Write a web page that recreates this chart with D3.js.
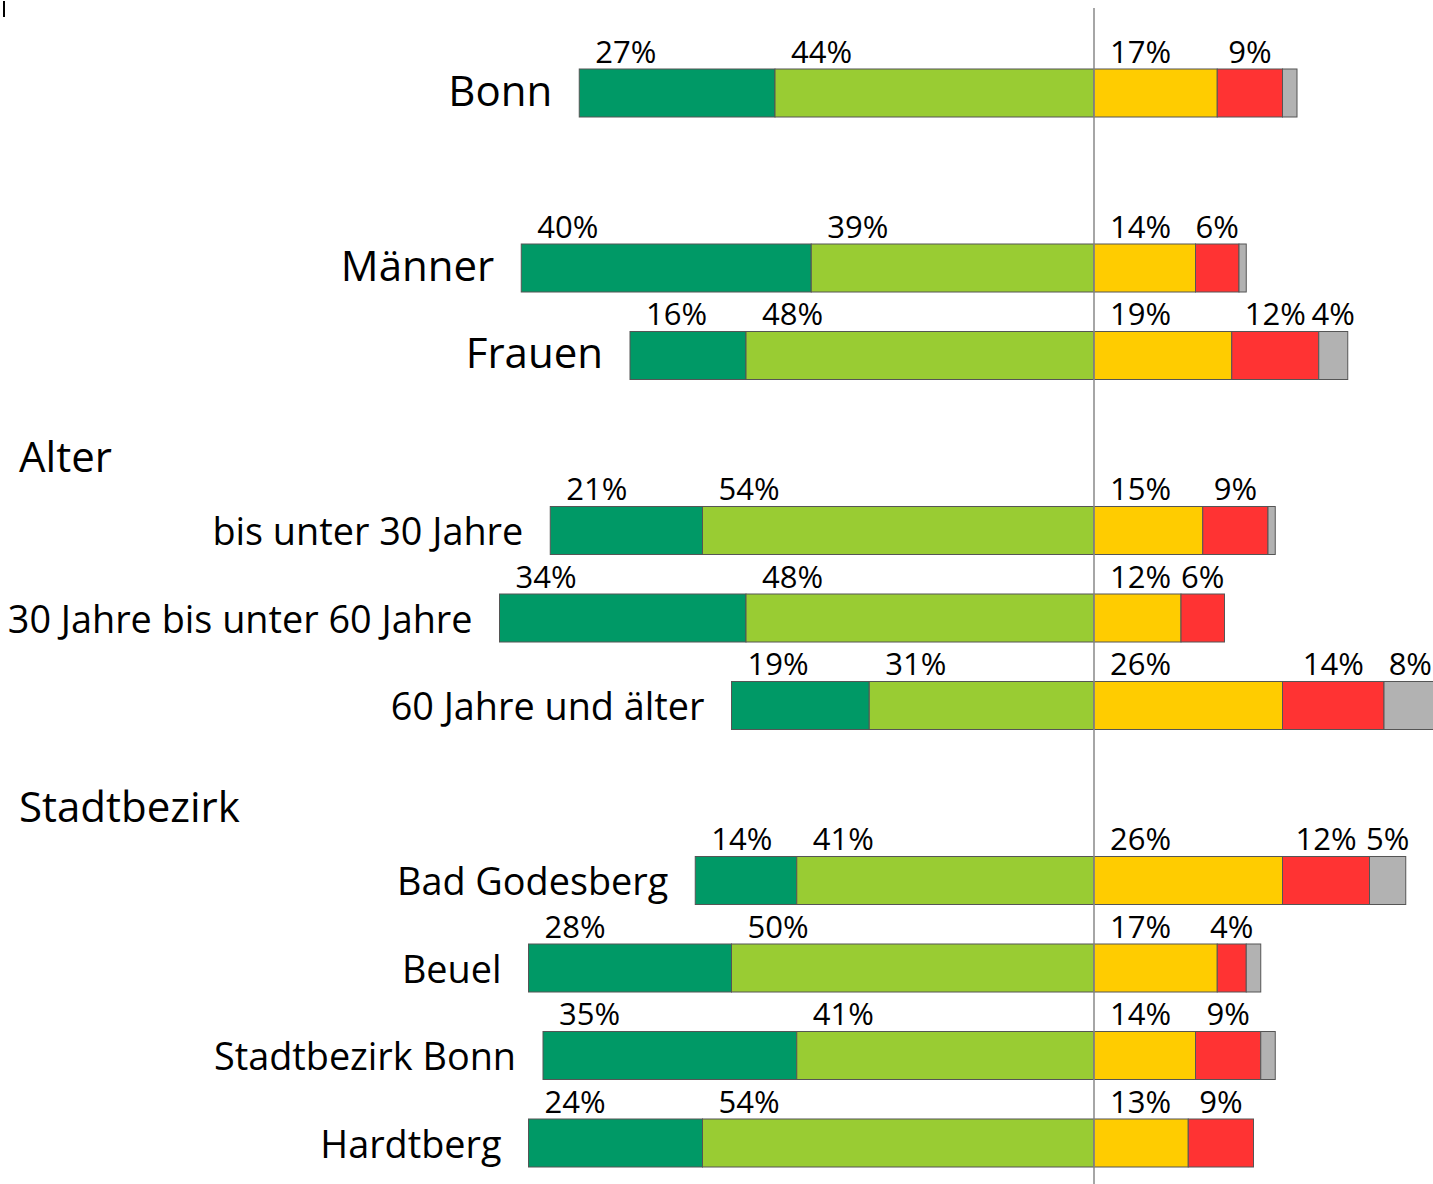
<!DOCTYPE html>
<html>
<head>
<meta charset="utf-8">
<script src="https://cdn.jsdelivr.net/npm/d3@7"></script>
<style>
  body { margin: 0; background: #fff; }
  text { font-family: "Open Sans", "Noto Sans", sans-serif; fill: #000; }
</style>
</head>
<body>
<div id="chart"></div>
<script>
const width = 1433;
const height = 1184;

// rows in display order (headings and an empty slot included)
const layout = [
  "Bonn", "_gap", "Männer", "Frauen",
  "Alter", "bis unter 30 Jahre", "30 Jahre bis unter 60 Jahre", "60 Jahre und älter",
  "Stadtbezirk", "Bad Godesberg", "Beuel", "Stadtbezirk Bonn", "Hardtberg"
];
const headings = ["Alter", "Stadtbezirk"];

const categories = [
  "Bonn", "Männer", "Frauen",
  "bis unter 30 Jahre", "30 Jahre bis unter 60 Jahre", "60 Jahre und älter",
  "Bad Godesberg", "Beuel", "Stadtbezirk Bonn", "Hardtberg"
];
const sehrGut   = [27, 40, 16, 21, 34, 19, 14, 28, 35, 24];
const gut       = [44, 39, 48, 54, 48, 31, 41, 50, 41, 54];
const schlecht  = [17, 14, 19, 15, 12, 26, 26, 17, 14, 13];
const sehrSchl  = [9, 6, 12, 9, 6, 14, 12, 4, 9, 9];
const keineAng  = [2, 1, 4, 1, 0, 8, 5, 2, 2, 0];

const seriesColors = ["#009966", "#99cc33", "#ffcc00", "#ff3333", "#b2b2b2"];

const svg = d3.select("#chart").append("svg")
  .attr("width", width)
  .attr("height", height);

const x = d3.scaleLinear().domain([-100, 100]).range([369, 1819]);
const y = d3.scaleBand().domain(layout).range([69, 1167]).paddingInner(0.4514).paddingOuter(0);

// build segments: negative side = sehr gut (outer) + gut (inner)
const segments = [];
categories.forEach((c, i) => {
  const parts = [
    { v: sehrGut[i], x0: -(sehrGut[i] + gut[i]), k: 0, align: "start" },
    { v: gut[i], x0: -gut[i], k: 1, align: "start" },
    { v: schlecht[i], x0: 0, k: 2, align: "start" },
    { v: sehrSchl[i], x0: schlecht[i], k: 3, align: "middle" },
    { v: keineAng[i], x0: schlecht[i] + sehrSchl[i], k: 4, align: "middle" }
  ];
  parts.forEach((p) => { if (p.v > 0) segments.push({ cat: c, ...p }); });
});

svg.append("g")
  .selectAll("rect")
  .data(segments)
  .join("rect")
  .attr("x", (d) => x(d.x0))
  .attr("y", (d) => y(d.cat))
  .attr("width", (d) => x(d.x0 + d.v) - x(d.x0))
  .attr("height", y.bandwidth())
  .attr("fill", (d) => seriesColors[d.k])
  .attr("stroke", "#555")
  .attr("stroke-width", 1);

svg.append("g")
  .selectAll("text")
  .data(segments.filter((d) => d.v >= 3))
  .join("text")
  .attr("x", (d) => d.align === "start" ? x(d.x0) + 16 : (x(d.x0) + x(d.x0 + d.v)) / 2)
  .attr("y", (d) => y(d.cat) - 6)
  .attr("text-anchor", (d) => d.align)
  .attr("font-size", 31)
  .text((d) => d.v + "%")
  .each(function () {
    // keep labels inside the picture
    const box = this.getBBox();
    const over = box.x + box.width - (width - 1);
    if (over > 0) d3.select(this).attr("x", +d3.select(this).attr("x") - over);
  });

// category labels
const bigLabels = ["Bonn", "Männer", "Frauen"];
svg.append("g")
  .selectAll("text")
  .data(categories)
  .join("text")
  .attr("x", (d, i) => x(-(sehrGut[i] + gut[i])) - 27)
  .attr("y", (d) => y(d) + (bigLabels.includes(d) ? 37 : 39))
  .attr("text-anchor", "end")
  .attr("font-size", (d) => bigLabels.includes(d) ? 42 : 37.8)
  .text((d) => d);

svg.append("g")
  .selectAll("text")
  .data(headings)
  .join("text")
  .attr("x", 19)
  .attr("y", (d) => y(d) + y.bandwidth() + 5)
  .attr("font-size", 42)
  .text((d) => d);

// zero line
svg.append("line")
  .attr("x1", x(0)).attr("x2", x(0))
  .attr("y1", 8).attr("y2", height)
  .attr("stroke", "#888")
  .attr("stroke-width", 1.5);

// small mark top-left
svg.append("line")
  .attr("x1", 4).attr("x2", 4)
  .attr("y1", 1).attr("y2", 17)
  .attr("stroke", "#000")
  .attr("stroke-width", 2);
</script>
</body>
</html>
